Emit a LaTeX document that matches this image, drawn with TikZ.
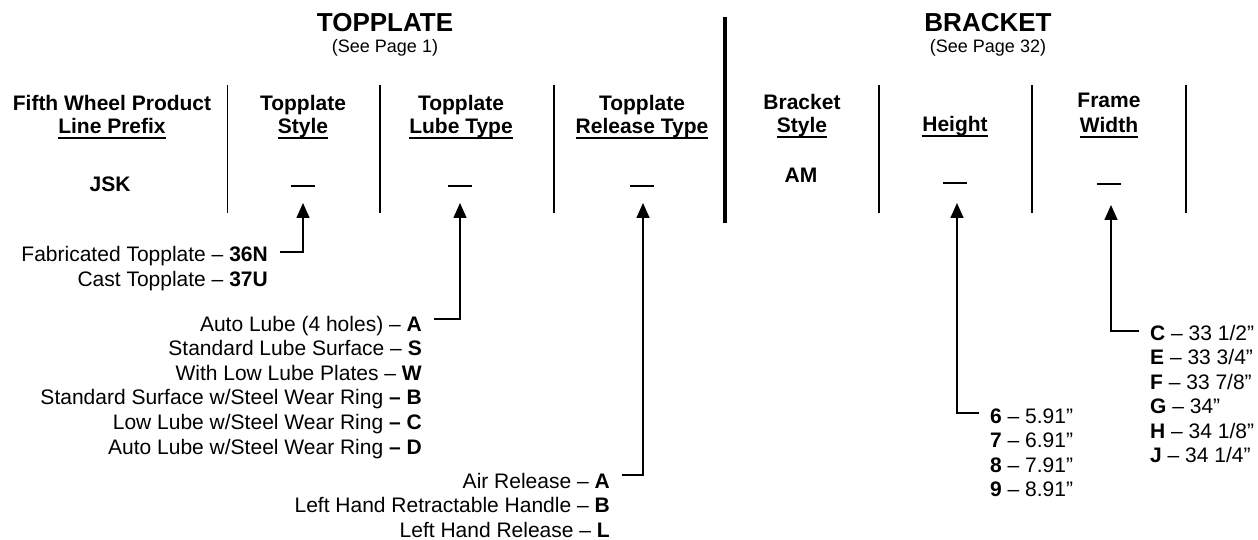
\documentclass[tikz,border=0pt]{standalone}
\usepackage{fontspec}
\setmainfont{Liberation Sans}
\usetikzlibrary{arrows.meta}
\newcommand\myul[1]{\setbox0=\hbox{#1}\rlap{\rule[-5pt]{\wd0}{2pt}}\box0}
\newcommand\blank{\rule[-4pt]{24pt}{2pt}}
\tikzset{
  every node/.style={inner sep=0pt, font=\fontsize{21}{24}\selectfont},
  title/.style={anchor=base, font=\fontsize{26}{30}\selectfont\bfseries},
  sub/.style={anchor=base, font=\fontsize{18}{21}\selectfont},
  head/.style={anchor=base, font=\fontsize{21}{24}\selectfont\bfseries},
  val/.style={anchor=base, font=\fontsize{21}{24}\selectfont\bfseries},
  itemr/.style={anchor=base east},
  iteml/.style={anchor=base west},
  sep/.style={line width=1.8pt},
  bigsep/.style={line width=4pt},
  conn/.style={line width=1.6pt, -{Triangle[width=13pt,length=15pt]}, shorten <=12pt},
  connr/.style={line width=1.6pt, {Triangle[width=13pt,length=15pt]}-, shorten >=11pt}
}
\begin{document}
\begin{tikzpicture}[x=1pt,y=-1pt]
\useasboundingbox (0,0) rectangle (1258,540);
% titles
\node[title] (ttop) at (385,32) {TOPPLATE};
\node[sub] (stop) at (385,53) {(See Page 1)};
\node[title] (tbr) at (988,32) {BRACKET};
\node[sub] (sbr) at (988,53) {(See Page 32)};
% separators
\draw[sep] (227.5,85) -- (227.5,213);
\draw[sep] (380,85) -- (380,213);
\draw[sep] (554,85) -- (554,213);
\draw[bigsep] (725,17) -- (725,223);
\draw[sep] (879,85) -- (879,213);
\draw[sep] (1032,85) -- (1032,213);
\draw[sep] (1186,85) -- (1186,213);
% headers
\node[head] (h1a) at (112,111) {Fifth Wheel Product};
\node[head] (h1b) at (112,134) {\myul{Line Prefix}};
\node[head] (h2a) at (303,111) {Topplate};
\node[head] (h2b) at (303,134) {\myul{Style}};
\node[head] (h3a) at (461,111) {Topplate};
\node[head] (h3b) at (461,134) {\myul{Lube Type}};
\node[head] (h4a) at (642,111) {Topplate};
\node[head] (h4b) at (642,134) {\myul{Release Type}};
\node[head] (h5a) at (802,110) {Bracket};
\node[head] (h5b) at (802,133) {\myul{Style}};
\node[head] (h6b) at (955,132) {\myul{Height}};
\node[head] (h7a) at (1109,108) {Frame};
\node[head] (h7b) at (1109,133) {\myul{Width}};
% values
\node[val] (jsk) at (110,192) {JSK};
\node[val] (am) at (801,183) {AM};
\node[val] (dst) at (303,183.5) {\blank};
\node[val] (dlu) at (460,183.5) {\blank};
\node[val] (drl) at (642,183.5) {\blank};
\node[val] (dht) at (955,180.5) {\blank};
\node[val] (dfw) at (1109,181.5) {\blank};
% arrow tips
\coordinate (tst) at (303,203);
\coordinate (tlu) at (460,203);
\coordinate (trl) at (643,203);
\coordinate (tht) at (957,203);
\coordinate (tfw) at (1111,205);
% topplate style list
\node[itemr] (fab) at (268,261) {Fabricated Topplate – \textbf{36N}};
\node[itemr] (cast) at (268,286) {Cast Topplate – \textbf{37U}};
% lube list
\node[itemr] (lA) at (422,331) {Auto Lube (4 holes) – \textbf{A}};
\node[itemr] (lS) at (422,355.6) {Standard Lube Surface – \textbf{S}};
\node[itemr] (lW) at (422,380.2) {With Low Lube Plates – \textbf{W}};
\node[itemr] (lB) at (422,404.8) {Standard Surface w/Steel Wear Ring \textbf{– B}};
\node[itemr] (lC) at (422,429.4) {Low Lube w/Steel Wear Ring \textbf{– C}};
\node[itemr] (lD) at (422,454) {Auto Lube w/Steel Wear Ring \textbf{– D}};
% release list
\node[itemr] (rA) at (610,488) {Air Release – \textbf{A}};
\node[itemr] (rB) at (610,512.5) {Left Hand Retractable Handle – \textbf{B}};
\node[itemr] (rL) at (610,537) {Left Hand Release – \textbf{L}};
% height list
\node[iteml] (h6) at (990,423) {\textbf{6} – 5.91”};
\node[iteml] (h7) at (990,447.5) {\textbf{7} – 6.91”};
\node[iteml] (h8) at (990,472) {\textbf{8} – 7.91”};
\node[iteml] (h9) at (990,496.5) {\textbf{9} – 8.91”};
% frame width list
\node[iteml] (fC) at (1150,340) {\textbf{C} – 33 1/2”};
\node[iteml] (fE) at (1150,364.5) {\textbf{E} – 33 3/4”};
\node[iteml] (fF) at (1150,389) {\textbf{F} – 33 7/8”};
\node[iteml] (fG) at (1150,413.5) {\textbf{G} – 34”};
\node[iteml] (fH) at (1150,438) {\textbf{H} – 34 1/8”};
\node[iteml] (fJ) at (1150,462.5) {\textbf{J} – 34 1/4”};
% connectors
\draw[conn] ([yshift=9pt]fab.base east) -| (tst);
\draw[conn] ([yshift=12pt]lA.base east) -| (tlu);
\draw[conn] ([yshift=13pt]rA.base east) -| (trl);
\draw[connr] (tht) |- ([yshift=10pt]h6.base west);
\draw[connr] (tfw) |- ([yshift=9pt]fC.base west);
\end{tikzpicture}
\end{document}
